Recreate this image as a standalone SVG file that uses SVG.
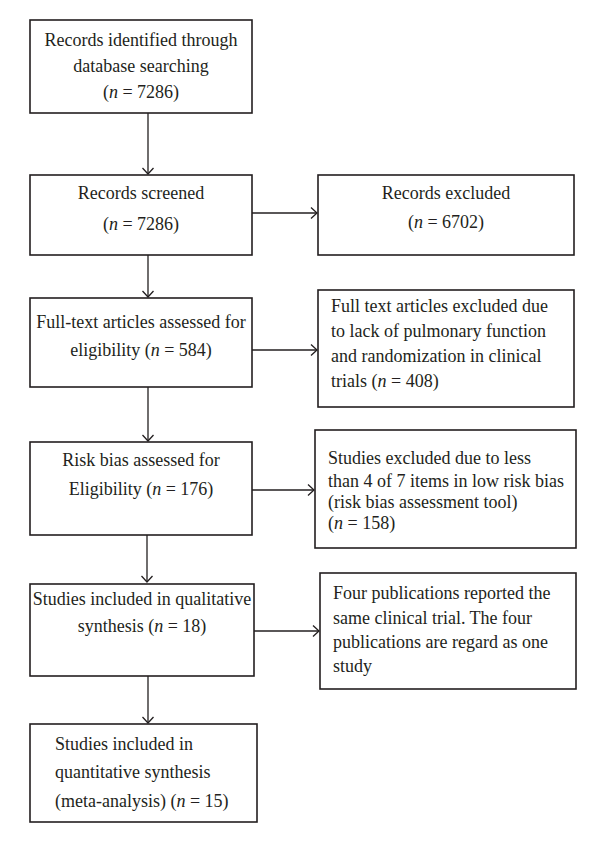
<svg xmlns="http://www.w3.org/2000/svg" width="600" height="851" viewBox="0 0 600 851">
<defs>
<marker id="arr" markerWidth="12" markerHeight="14" refX="8" refY="7" orient="auto" markerUnits="userSpaceOnUse">
<path d="M2,1.5 L8,7 L2,12.5" fill="none" stroke="#231f20" stroke-width="1.3"/>
</marker>
</defs>
<style>
.box{fill:#fff;stroke:#231f20;stroke-width:1.6}
text{font-family:"Liberation Serif","Times New Roman",serif;font-size:18px;fill:#231f20}
.c{text-anchor:middle}
.edge{stroke:#231f20;stroke-width:1.3;fill:none;marker-end:url(#arr)}
</style>
<rect width="600" height="851" fill="#fff"/>
<g id="connectors">
<line class="edge" x1="148" y1="113" x2="148" y2="174"/>
<line class="edge" x1="252" y1="213" x2="317" y2="213"/>
<line class="edge" x1="148" y1="255" x2="148" y2="297"/>
<line class="edge" x1="252" y1="350" x2="317" y2="350"/>
<line class="edge" x1="148" y1="387" x2="148" y2="441"/>
<line class="edge" x1="252" y1="490" x2="314" y2="490"/>
<line class="edge" x1="147" y1="535" x2="147" y2="582"/>
<line class="edge" x1="254" y1="631" x2="319" y2="631"/>
<line class="edge" x1="148" y1="676" x2="148" y2="723"/>
</g>
<g id="n1">
<rect class="box" x="30" y="20" width="222" height="93"/>
<text class="c" x="141" y="46">Records identified through</text>
<text class="c" x="141" y="72">database searching</text>
<text class="c" x="141" y="98">(<tspan font-style="italic">n</tspan> = 7286)</text>
</g>
<g id="n2">
<rect class="box" x="30" y="175" width="222" height="80"/>
<text class="c" x="141" y="199">Records screened</text>
<text class="c" x="141" y="230">(<tspan font-style="italic">n</tspan> = 7286)</text>
</g>
<g id="n2x">
<rect class="box" x="318" y="175" width="256" height="80"/>
<text class="c" x="446" y="199">Records excluded</text>
<text class="c" x="446" y="228">(<tspan font-style="italic">n</tspan> = 6702)</text>
</g>
<g id="n3">
<rect class="box" x="30" y="298" width="222" height="89"/>
<text class="c" x="141" y="328">Full-text articles assessed for</text>
<text class="c" x="141" y="356">eligibility (<tspan font-style="italic">n</tspan> = 584)</text>
</g>
<g id="n3x">
<rect class="box" x="318" y="290" width="256" height="117"/>
<text x="331" y="312">Full text articles excluded due</text>
<text x="331" y="337">to lack of pulmonary function</text>
<text x="331" y="362">and randomization in clinical</text>
<text x="331" y="387">trials (<tspan font-style="italic">n</tspan> = 408)</text>
</g>
<g id="n4">
<rect class="box" x="30" y="442" width="222" height="93"/>
<text class="c" x="141" y="466">Risk bias assessed for</text>
<text class="c" x="141" y="495">Eligibility (<tspan font-style="italic">n</tspan> = 176)</text>
</g>
<g id="n4x">
<rect class="box" x="315" y="430" width="261" height="118"/>
<text x="328" y="464">Studies excluded due to less</text>
<text x="328" y="487">than 4 of 7 items in low risk bias</text>
<text x="328" y="508">(risk bias assessment tool)</text>
<text x="328" y="529">(<tspan font-style="italic">n</tspan> = 158)</text>
</g>
<g id="n5">
<rect class="box" x="30" y="584" width="224" height="92"/>
<text class="c" x="142" y="605">Studies included in qualitative</text>
<text class="c" x="142" y="632">synthesis (<tspan font-style="italic">n</tspan> = 18)</text>
</g>
<g id="n5x">
<rect class="box" x="320" y="573" width="256" height="116"/>
<text x="333" y="599">Four publications reported the</text>
<text x="333" y="624">same clinical trial. The four</text>
<text x="333" y="648">publications are regard as one</text>
<text x="333" y="672">study</text>
</g>
<g id="n6">
<rect class="box" x="30" y="724" width="227" height="98"/>
<text x="55" y="750">Studies included in</text>
<text x="55" y="778">quantitative synthesis</text>
<text x="55" y="807">(meta-analysis) (<tspan font-style="italic">n</tspan> = 15)</text>
</g>
</svg>
